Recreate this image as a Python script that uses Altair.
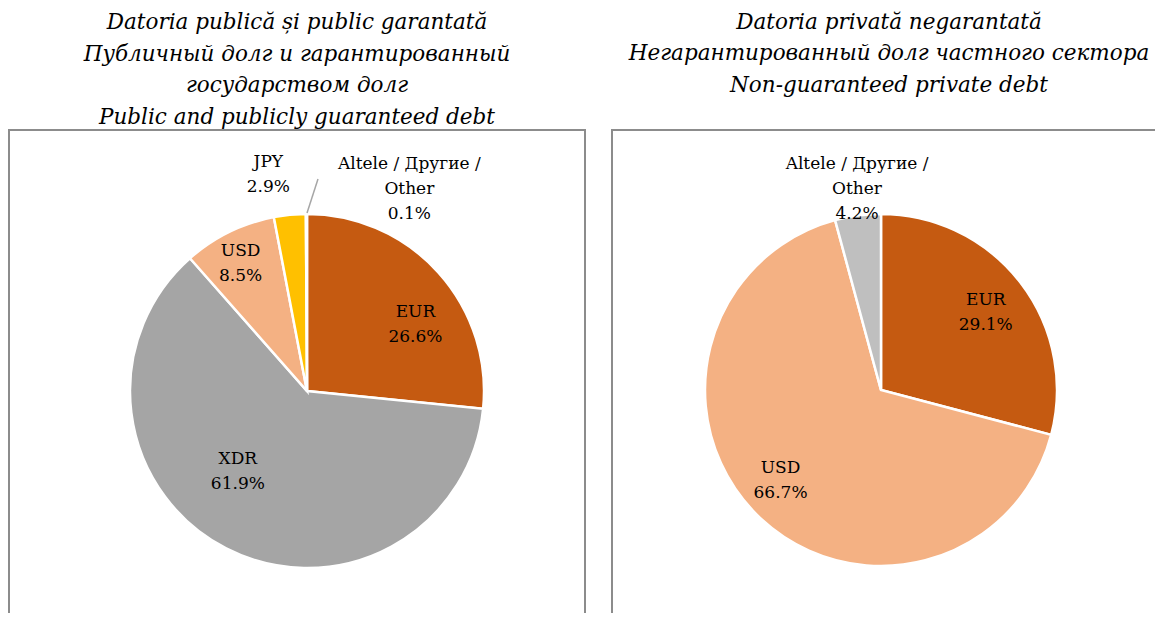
import altair as alt
import pandas as pd

# ---- data ----
pub_keys = ["EUR", "XDR", "USD", "JPY", "OTHER"]
pub_names = ["EUR", "XDR", "USD", "JPY", "Altele / Другие /\nOther"]
pub_values = [26.6, 61.9, 8.5, 2.9, 0.1]

priv_keys = ["EUR", "USD", "OTHER"]
priv_names = ["EUR", "USD", "Altele / Другие /\nOther"]
priv_values = [29.1, 66.7, 4.2]

pub_title = ["Datoria publică și public garantată",
             "Публичный долг и гарантированный",
             "государством долг",
             "Public and publicly guaranteed debt"]
priv_title = ["Datoria privată negarantată",
              "Негарантированный долг частного сектора",
              "Non-guaranteed private debt"]

color_domain = ["EUR", "XDR", "USD", "JPY", "OTHER"]
color_range = ["#C55A11", "#A5A5A5", "#F4B183", "#FFC000", "#BFBFBF"]


def make_df(keys, names, values):
    return pd.DataFrame({
        "key": keys,
        "label": [f"{n}\n{v:.1f}%" for n, v in zip(names, values)],
        "value": values,
        "ord": list(range(len(keys))),
    })


FONT = "DejaVu Serif"


def pie(df, cx, cy, R, W, H, title, title_offset, title_dx, label_specs, box_extra_right, extras=()):
    base = alt.Chart(df).transform_stack(
        stack="value", groupby=[], as_=["v0", "v1"], sort=[alt.SortField("ord")]
    ).transform_calculate(mid="(datum.v0 + datum.v1) / 2")

    theta_scale = alt.Scale(domain=[0, 100])
    arcs = base.mark_arc(radius=R, stroke="white", strokeWidth=2.5).encode(
        theta=alt.Theta("v0:Q", scale=theta_scale, stack=None),
        theta2="v1:Q",
        color=alt.Color("key:N", scale=alt.Scale(domain=color_domain, range=color_range), legend=None),
        x=alt.value(cx), y=alt.value(cy),
    )
    layers = [arcs]
    for key, (r, dx, dy) in label_specs.items():
        layers.append(
            base.transform_filter(alt.datum.key == key).mark_text(
                radius=r, dx=dx, dy=dy, font=FONT, fontSize=17, lineHeight=25,
                lineBreak="\n", align="center", baseline="middle", color="black",
            ).encode(
                theta=alt.Theta("mid:Q", scale=theta_scale, stack=None),
                text="label:N",
                x=alt.value(cx), y=alt.value(cy),
            )
        )
    layers.extend(extras)
    box = alt.Chart(alt.Data(values=[{}])).mark_rect(
        filled=False, stroke="#8C8C8C", strokeWidth=2, clip=True
    ).encode(
        x=alt.value(1), y=alt.value(1),
        x2=alt.value(W - 1 + box_extra_right), y2=alt.value(H + 10),
    )
    layers.append(box)
    return alt.layer(*layers).properties(
        width=W, height=H,
        title=alt.TitleParams(
            text=title, font=FONT, fontStyle="italic", fontWeight="normal",
            fontSize=21.5, lineHeight=31.5, color="black", anchor="middle",
            offset=title_offset, dx=title_dx,
        ),
    )


H = 484
leader = alt.Chart(alt.Data(values=[{}])).mark_rule(color="#A6A6A6", strokeWidth=1.5).encode(
    x=alt.value(299), y=alt.value(84), x2=alt.value(310), y2=alt.value(50)
)

left = pie(
    make_df(pub_keys, pub_names, pub_values), cx=299, cy=262, R=177, W=578, H=H,
    title=pub_title, title_offset=1, title_dx=0,
    label_specs={
        "EUR": (126, 15, 6),
        "XDR": (101, -23, -22),
        "USD": (144, -3, -11),
        "JPY": (223, -17, -7),
        "OTHER": (205, 103, -22),
    },
    box_extra_right=0, extras=[leader],
)
right = pie(
    make_df(priv_keys, priv_names, priv_values), cx=270, cy=261, R=176, W=544, H=H,
    title=priv_title, title_offset=33, title_dx=6,
    label_specs={
        "EUR": (131, 1, -10),
        "USD": (134, -6, -17),
        "OTHER": (205, 3, -23),
    },
    box_extra_right=20,
)

chart = alt.hconcat(left, right, spacing=25).properties(
    padding={"left": 0, "top": 3, "right": 0, "bottom": 0}
).configure_view(stroke=None).resolve_scale(theta="independent", color="shared")

chart.save("out.html", embed_options={"renderer": "svg", "actions": False})
